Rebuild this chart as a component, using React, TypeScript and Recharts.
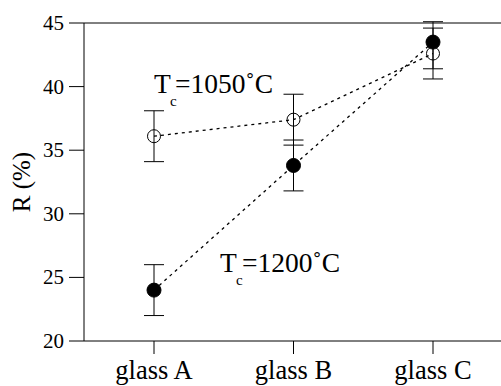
import { LineChart, Line, XAxis, YAxis, ErrorBar, ReferenceLine, Label } from 'recharts';

// glass samples on the x axis
const glasses = ['glass A', 'glass B', 'glass C'];

// reflectance R (%) for the two crystallisation temperatures
const r1050 = [36.1, 37.4, 42.6];
const err1050 = [2, 2, 2];
const r1200 = [24.0, 33.8, 43.5];
const err1200: [number, number][] = [[2, 2], [2, 2], [2.1, 1.6]];

const yTicks = [20, 25, 30, 35, 40, 45];

const data = glasses.map((g, i) => ({
  name: g,
  r1050: r1050[i],
  e1050: err1050[i],
  r1200: r1200[i],
  e1200: err1200[i],
}));

const FONT = 'Liberation Serif';

const XTick = ({ x, y, payload }: any) => (
  <text x={x} y={y} dy={18} textAnchor="middle" fontFamily={FONT} fontSize={26.5} fill="#000">
    {payload.value}
  </text>
);
const YTick = ({ x, y, payload }: any) => (
  <text x={x} y={y} dy={7} textAnchor="end" fontFamily={FONT} fontSize={21} fill="#000">
    {payload.value}
  </text>
);

export default function App() {
  return (
    <div style={{ position: 'absolute', left: 0, top: 0, width: 501, height: 386, background: '#fff' }}>
      <LineChart width={501} height={386} data={data} margin={{ top: 23, right: 0, left: 0, bottom: 0 }}>
        <XAxis
          dataKey="name"
          height={45}
          padding={{ left: 70, right: 68 }}
          stroke="#000"
          tickSize={13}
          tickMargin={7}
          tick={<XTick />}
        />
        <YAxis
          domain={[20, 45]}
          ticks={yTicks}
          width={84}
          stroke="#000"
          tickSize={15}
          tickMargin={5}
          allowDataOverflow
          tick={<YTick />}
        >
          <Label
            value="R (%)"
            angle={-90}
            position="insideLeft"
            offset={0}
            dx={21}
            fontFamily={FONT}
            fontSize={25}
            fill="#000"
            style={{ textAnchor: 'middle' }}
          />
        </YAxis>
        <ReferenceLine y={45} stroke="#000" strokeWidth={1} />
        <Line
          dataKey="r1200"
          stroke="#000"
          strokeWidth={1.3}
          strokeDasharray="3 4"
          dot={{ r: 7, fill: '#000', stroke: '#000', strokeWidth: 1, strokeDasharray: '0' }}
          isAnimationActive={false}
        >
          <ErrorBar dataKey="e1200" width={10} stroke="#000" strokeWidth={1} direction="y" />
        </Line>
        <Line
          dataKey="r1050"
          stroke="#000"
          strokeWidth={1.3}
          strokeDasharray="3 4"
          dot={{ r: 6.5, fill: 'none', stroke: '#000', strokeWidth: 1, strokeDasharray: '0' }}
          isAnimationActive={false}
        >
          <ErrorBar dataKey="e1050" width={10} stroke="#000" strokeWidth={1} direction="y" />
        </Line>
      </LineChart>
      <svg width={501} height={386} style={{ position: 'absolute', left: 0, top: 0, pointerEvents: 'none' }}>
        <g fontFamily={FONT} fill="#000">
          <text x={154} y={93} fontSize={27.5}>T</text>
          <text x={170} y={106} fontSize={15}>c</text>
          <text x={175} y={93} fontSize={27.5}>=1050˚C</text>
          <text x={220} y={272} fontSize={27.5}>T</text>
          <text x={236} y={285} fontSize={15}>c</text>
          <text x={242} y={272} fontSize={27.5}>=1200˚C</text>
        </g>
      </svg>
    </div>
  );
}
